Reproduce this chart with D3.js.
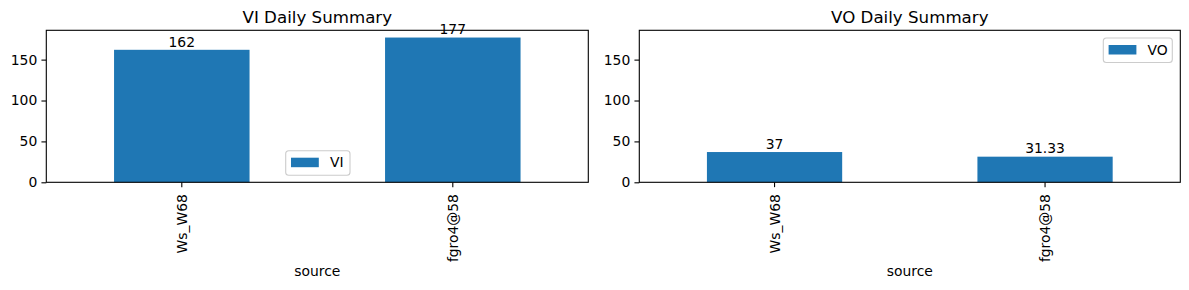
<!DOCTYPE html>
<html>
<head>
<meta charset="utf-8">
<script src="https://cdn.jsdelivr.net/npm/d3@7"></script>
<style>
  html, body { margin: 0; padding: 0; background: #fff; }
  svg { display: block; font-family: 'DejaVu Sans', sans-serif; }
</style>
</head>
<body>
<svg id="chart" width="1189" height="290"></svg>
<script>
const categories = ['Ws_W68', 'fgro4@58'];
const viValues = [162, 177];
const voValues = [37, 31.33];
const yTicks = [0, 50, 100, 150];
const seriesNames = ['VI', 'VO'];
const chartTitles = ['VI Daily Summary', 'VO Daily Summary'];
const xLabel = 'source';

const barColor = '#1f77b4';
const fontSize = 13.9;

const svg = d3.select('#chart');

// both panels share the y range (sharey)
const yMax = d3.max(viValues.concat(voValues)) * 1.05;

const panels = [
  { values: viValues, name: seriesNames[0], title: chartTitles[0], left: 46.3, right: 588.3, legend: { x: 285.7, y: 150.7, w: 64.3 } },
  { values: voValues, name: seriesNames[1], title: chartTitles[1], left: 639.3, right: 1180.3, legend: { x: 1103.3, y: 38, w: 69 } },
];
const plotTop = 30.3;
const plotBottom = 182.3;

function drawPanel(p) {
  const g = svg.append('g');

  const x = d3
    .scaleBand()
    .domain(categories)
    .range([p.left, p.right])
    .paddingInner(0.5)
    .paddingOuter(0.25);

  const y = d3.scaleLinear().domain([0, yMax]).range([plotBottom, plotTop]);

  // bars
  g.selectAll('rect.bar')
    .data(p.values)
    .enter()
    .append('rect')
    .attr('class', 'bar')
    .attr('x', (d, i) => x(categories[i]))
    .attr('y', d => y(d))
    .attr('width', x.bandwidth())
    .attr('height', d => y(0) - y(d))
    .attr('fill', barColor);

  // bar labels
  g.selectAll('text.bar-label')
    .data(p.values)
    .enter()
    .append('text')
    .attr('class', 'bar-label')
    .attr('x', (d, i) => x(categories[i]) + x.bandwidth() / 2)
    .attr('y', d => y(d) - 3.2)
    .attr('text-anchor', 'middle')
    .attr('font-size', fontSize)
    .attr('fill', '#000')
    .text(d => d3.format('~r')(d));

  // y axis
  const yAxis = g
    .append('g')
    .attr('transform', `translate(${p.left},0)`)
    .call(d3.axisLeft(y).tickValues(yTicks).tickSize(4.86).tickPadding(4.2));
  yAxis.select('.domain').remove();
  yAxis.selectAll('line').attr('stroke', '#000').attr('stroke-width', 1.1);
  yAxis.selectAll('text').attr('font-size', fontSize).attr('font-family', 'DejaVu Sans').attr('fill', '#000');

  // x axis ticks
  const xTicks = g
    .selectAll('g.xtick')
    .data(categories)
    .enter()
    .append('g')
    .attr('class', 'xtick')
    .attr('transform', d => `translate(${x(d) + x.bandwidth() / 2},${plotBottom})`);
  xTicks.append('line').attr('y2', 4.86).attr('stroke', '#000').attr('stroke-width', 1.1);
  xTicks
    .append('text')
    .attr('transform', 'translate(0,11.8) rotate(-90)')
    .attr('text-anchor', 'end')
    .attr('dy', '0.36em')
    .attr('font-size', fontSize)
    .attr('fill', '#000')
    .text(d => d);

  // spines
  g.append('rect')
    .attr('x', p.left)
    .attr('y', plotTop)
    .attr('width', p.right - p.left)
    .attr('height', plotBottom - plotTop)
    .attr('fill', 'none')
    .attr('stroke', '#000')
    .attr('stroke-width', 1.1);

  // title
  g.append('text')
    .attr('x', (p.left + p.right) / 2)
    .attr('y', 22.5)
    .attr('text-anchor', 'middle')
    .attr('font-size', 16.67)
    .attr('fill', '#000')
    .text(p.title);

  // x label
  g.append('text')
    .attr('x', (p.left + p.right) / 2)
    .attr('y', 276.3)
    .attr('text-anchor', 'middle')
    .attr('font-size', fontSize)
    .attr('fill', '#000')
    .text(xLabel);

  // legend
  const lg = g.append('g').attr('transform', `translate(${p.legend.x},${p.legend.y})`);
  lg.append('rect')
    .attr('width', p.legend.w)
    .attr('height', 24.5)
    .attr('rx', 3)
    .attr('fill', '#fff')
    .attr('fill-opacity', 0.8)
    .attr('stroke', '#cccccc')
    .attr('stroke-width', 1.1);
  lg.append('rect')
    .attr('x', 5.3)
    .attr('y', 7)
    .attr('width', 27.8)
    .attr('height', 9.5)
    .attr('fill', barColor);
  lg.append('text')
    .attr('x', 44.3)
    .attr('y', 16.8)
    .attr('font-size', fontSize)
    .attr('fill', '#000')
    .text(p.name);
}

panels.forEach(drawPanel);
</script>
</body>
</html>
